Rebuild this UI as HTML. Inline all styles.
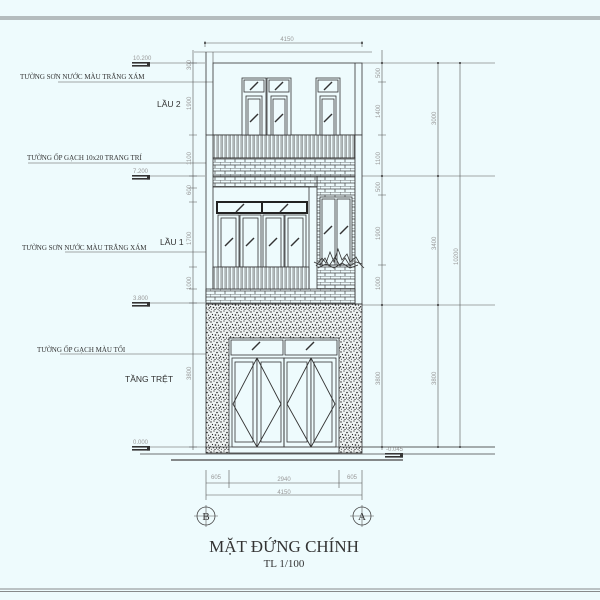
<!DOCTYPE html>
<html><head><meta charset="utf-8"><style>
html,body{margin:0;padding:0;background:#eefbfd;}
svg{display:block}
.t{font-family:"Liberation Serif",serif;fill:#333}
.s{font-family:"Liberation Sans",sans-serif;fill:#333}
.d{font-family:"Liberation Sans",sans-serif;fill:#999;font-size:6px}
</style></head><body>
<svg width="600" height="600" viewBox="0 0 600 600" xmlns="http://www.w3.org/2000/svg">
<defs>
<pattern id="brick" width="10" height="6" patternUnits="userSpaceOnUse">
<rect width="10" height="6" fill="#eefbfd"/>
<path d="M0 0H10M0 3H10M0 0V3M5 3V6" stroke="#444" stroke-width="0.7"/>
</pattern>
<pattern id="rail" width="4" height="10" patternUnits="userSpaceOnUse">
<rect width="4" height="10" fill="#eefbfd"/>
<path d="M1 0V10M2.2 0V10" stroke="#555" stroke-width="0.6"/>
</pattern>
<pattern id="spk" width="10" height="10" patternUnits="userSpaceOnUse">
<rect width="10" height="10" fill="#eef2f2"/>
<g fill="#222">
<circle cx="1" cy="2" r="0.7"/><circle cx="4" cy="1" r="0.6"/><circle cx="7" cy="2.5" r="0.8"/><circle cx="9.2" cy="0.8" r="0.5"/>
<circle cx="2.5" cy="4.5" r="0.6"/><circle cx="5.5" cy="5" r="0.8"/><circle cx="8.5" cy="5.2" r="0.6"/><circle cx="0.5" cy="6.8" r="0.7"/>
<circle cx="3.5" cy="7.5" r="0.8"/><circle cx="6.5" cy="8" r="0.6"/><circle cx="9.3" cy="8" r="0.7"/><circle cx="1.5" cy="9.3" r="0.5"/>
<circle cx="5" cy="9.5" r="0.6"/><circle cx="8" cy="9.6" r="0.5"/>
</g>
</pattern>
<g id="leaf"><path d="M-4 4L4 -4" stroke="#333" stroke-width="1.4"/></g>
</defs>

<path d="M0 17H600M0 19H600" stroke="#555" stroke-width="0.8"/>
<path d="M0 589H600M0 591.5H600" stroke="#666" stroke-width="0.8"/>

<g stroke="#555" stroke-width="0.6" fill="none">
<path d="M205 43H362M205 41V47M362 41V47M194 52H372M213 52V63"/>
<path d="M193 50V450"/>
<path d="M189 63H197M189 135H197M189 176H197M189 188H197M189 202H197M189 267H197M189 289H197M189 303H197M189 447H197"/>
<path d="M382 50V450M438 63V447M460 63V447"/>
<path d="M362 63H495M362 176H495M362 305H495M362 447H495M378 82H386M378 135H386M378 195H386M378 265H386"/>
<path d="M58 82H220M28 163H215M65 252H210M60 354H230"/>
<path d="M206 470V500M362 470V500M229 470V488M339 470V488M206 483H362M206 495H362"/>
<path d="M206 505V527M362 505V527M194 516H218M350 516H374"/>
</g>
<g fill="#333">
<circle cx="205" cy="43" r="1"/><circle cx="362" cy="43" r="1"/><circle cx="382" cy="63" r="1"/><circle cx="382" cy="176" r="1"/><circle cx="382" cy="305" r="1"/><circle cx="382" cy="447" r="1"/>
<circle cx="438" cy="63" r="1"/><circle cx="438" cy="176" r="1"/><circle cx="438" cy="305" r="1"/><circle cx="438" cy="447" r="1"/><circle cx="460" cy="63" r="1"/><circle cx="460" cy="447" r="1"/>
</g>
<circle cx="206" cy="516" r="9" fill="none" stroke="#444" stroke-width="0.8"/>
<circle cx="362" cy="516" r="9" fill="none" stroke="#444" stroke-width="0.8"/>
<text x="206" y="520" class="t" font-size="11" text-anchor="middle" fill="#888">B</text>
<text x="362" y="520" class="t" font-size="11" text-anchor="middle" fill="#888">A</text>

<text x="287" y="41" class="d" text-anchor="middle">4150</text>
<text x="216" y="479" class="d" text-anchor="middle">605</text>
<text x="284" y="481" class="d" text-anchor="middle">2940</text>
<text x="352" y="479" class="d" text-anchor="middle">605</text>
<text x="284" y="494" class="d" text-anchor="middle">4150</text>
<g class="d">
<text transform="translate(191,70) rotate(-90)">300</text>
<text transform="translate(191,110) rotate(-90)">1900</text>
<text transform="translate(191,165) rotate(-90)">1100</text>
<text transform="translate(191,195) rotate(-90)">600</text>
<text transform="translate(191,245) rotate(-90)">1700</text>
<text transform="translate(191,290) rotate(-90)">1000</text>
<text transform="translate(191,380) rotate(-90)">3800</text>
<text transform="translate(380,78) rotate(-90)">500</text>
<text transform="translate(380,118) rotate(-90)">1400</text>
<text transform="translate(380,165) rotate(-90)">1100</text>
<text transform="translate(380,192) rotate(-90)">500</text>
<text transform="translate(380,240) rotate(-90)">1900</text>
<text transform="translate(380,290) rotate(-90)">1000</text>
<text transform="translate(380,385) rotate(-90)">3800</text>
<text transform="translate(436,125) rotate(-90)">3000</text>
<text transform="translate(436,250) rotate(-90)">3400</text>
<text transform="translate(436,385) rotate(-90)">3800</text>
<text transform="translate(458,265) rotate(-90)">10200</text>
</g>

<g fill="#333">
<rect x="132" y="62" width="18" height="1.6"/><rect x="132" y="65" width="18" height="1.6"/><rect x="147" y="62" width="3" height="4.6"/>
<rect x="132" y="175" width="18" height="1.6"/><rect x="132" y="178" width="18" height="1.6"/><rect x="147" y="175" width="3" height="4.6"/>
<rect x="132" y="302" width="18" height="1.6"/><rect x="132" y="305" width="18" height="1.6"/><rect x="147" y="302" width="3" height="4.6"/>
<rect x="132" y="446" width="18" height="1.6"/><rect x="132" y="449" width="18" height="1.6"/><rect x="147" y="446" width="3" height="4.6"/>
<rect x="385" y="453" width="18" height="1.6"/><rect x="385" y="456" width="18" height="1.6"/><rect x="400" y="453" width="3" height="4.6"/>
</g>
<g class="d" font-size="5"><text x="133" y="60">10.200</text><text x="133" y="173">7.200</text><text x="133" y="300">3.800</text><text x="133" y="444">0.000</text><text x="386" y="451">-0.045</text></g>
<path d="M150 63H205M150 176H205M150 303H205M150 447H205" stroke="#555" stroke-width="0.6"/>

<g stroke="#333" stroke-width="0.8">
<rect x="213" y="63" width="149" height="72" fill="#eefbfd"/>
<path d="M206 52V135M355 63V135" fill="none"/>
<rect x="206" y="135" width="156" height="170" fill="#eefbfd"/>
<rect x="213" y="135" width="142" height="23" fill="url(#rail)"/>
<rect x="213" y="158" width="142" height="18" fill="url(#brick)"/>
<g fill="#eefbfd">
<rect x="242" y="78" width="24" height="57"/><rect x="267" y="78" width="24" height="57"/><rect x="316" y="78" width="24" height="57"/>
<rect x="244" y="80" width="20" height="12"/><rect x="269" y="80" width="20" height="12"/><rect x="318" y="80" width="20" height="12"/>
<rect x="246" y="96" width="16" height="39"/><rect x="271" y="96" width="16" height="39"/><rect x="320" y="96" width="16" height="39"/>
<rect x="248" y="99" width="12" height="36"/><rect x="273" y="99" width="12" height="36"/><rect x="322" y="99" width="12" height="36"/>
</g>
<rect x="317" y="176" width="38" height="128" fill="url(#brick)"/>
<rect x="213" y="176" width="104" height="11" fill="url(#brick)"/>
<rect x="206" y="289" width="149" height="15" fill="url(#brick)"/>
<rect x="213" y="187" width="96" height="102" fill="#eefbfd"/>
<rect x="217" y="202" width="90" height="11" fill="#eefbfd" stroke="#222" stroke-width="2"/>
<path d="M262 202V213" stroke="#222" stroke-width="2"/>
<g fill="#eefbfd">
<rect x="218" y="215" width="21" height="52"/><rect x="240" y="215" width="21" height="52"/><rect x="263" y="215" width="21" height="52"/><rect x="285" y="215" width="21" height="52"/>
<rect x="221" y="218" width="15" height="49"/><rect x="243" y="218" width="15" height="49"/><rect x="266" y="218" width="15" height="49"/><rect x="288" y="218" width="15" height="49"/>
<rect x="320" y="197" width="32" height="68"/><rect x="322" y="199" width="13" height="66"/><rect x="337" y="199" width="13" height="66"/>
</g>
<rect x="213" y="267" width="96" height="22" fill="url(#rail)"/>
<rect x="206" y="304" width="156" height="149" fill="url(#spk)"/>
<rect x="229" y="338" width="110" height="115" fill="#eefbfd"/>
<rect x="231" y="340" width="52" height="15" fill="#eefbfd"/><rect x="285" y="340" width="52" height="15" fill="#eefbfd"/>
<g fill="#eefbfd">
<rect x="232" y="358" width="25" height="89"/><rect x="257" y="358" width="27" height="89"/><rect x="284" y="358" width="27" height="89"/><rect x="311" y="358" width="25" height="89"/>
<rect x="235" y="362" width="18" height="80"/><rect x="261" y="362" width="20" height="80"/><rect x="287" y="362" width="20" height="80"/><rect x="314" y="362" width="18" height="80"/>
</g>
<path d="M257 358L233 404L257 447M257 358L281 404L257 447M311 358L287 404L311 447M311 358L335 404L311 447M284 358V447" fill="none" stroke-width="0.9"/>
<path d="M206 304H362" fill="none"/>
</g>
<g>
<use href="#leaf" x="254" y="86"/><use href="#leaf" x="279" y="86"/><use href="#leaf" x="328" y="86"/>
<use href="#leaf" x="254" y="118"/><use href="#leaf" x="279" y="118"/><use href="#leaf" x="328" y="118"/>
<use href="#leaf" x="240" y="208"/><use href="#leaf" x="284" y="208"/>
<use href="#leaf" x="229" y="242"/><use href="#leaf" x="250" y="242"/><use href="#leaf" x="273" y="242"/><use href="#leaf" x="295" y="242"/>
<use href="#leaf" x="328" y="230"/><use href="#leaf" x="344" y="230"/>
<use href="#leaf" x="256" y="346"/><use href="#leaf" x="310" y="346"/>
</g>
<g stroke="#333" stroke-width="0.8" fill="none">
<path d="M316 266L322 258L326 263L330 252L334 262L338 249L342 260L347 254L350 262L356 257L360 264L364 268"/>
<path d="M314 262L320 265L325 258L329 266L335 257L340 266L345 258L350 266L356 262L362 264"/>
<path d="M318 268L326 264L334 268L342 263L350 268L358 265"/>
</g>
<path d="M205 447H495M140 454H495" stroke="#444" stroke-width="0.8"/>
<path d="M171 460H403" stroke="#444" stroke-width="1.2"/>

<g class="t" font-size="7">
<text x="20" y="79">TƯỜNG SƠN NƯỚC MÀU TRẮNG XÁM</text>
<text x="27" y="160">TƯỜNG ỐP GẠCH 10x20 TRANG TRÍ</text>
<text x="22" y="250">TƯỜNG SƠN NƯỚC MÀU TRẮNG XÁM</text>
<text x="37" y="352">TƯỜNG ỐP GẠCH MÀU TỐI</text>
</g>
<g class="s" font-size="8.5">
<text x="157" y="107">LẦU 2</text>
<text x="160" y="245">LẦU 1</text>
<text x="125" y="382">TẦNG TRỆT</text>
</g>
<text x="284" y="552" class="t" font-size="17" text-anchor="middle">MẶT ĐỨNG CHÍNH</text>
<text x="284" y="567" class="t" font-size="11" text-anchor="middle">TL 1/100</text>
</svg>
</body></html>
